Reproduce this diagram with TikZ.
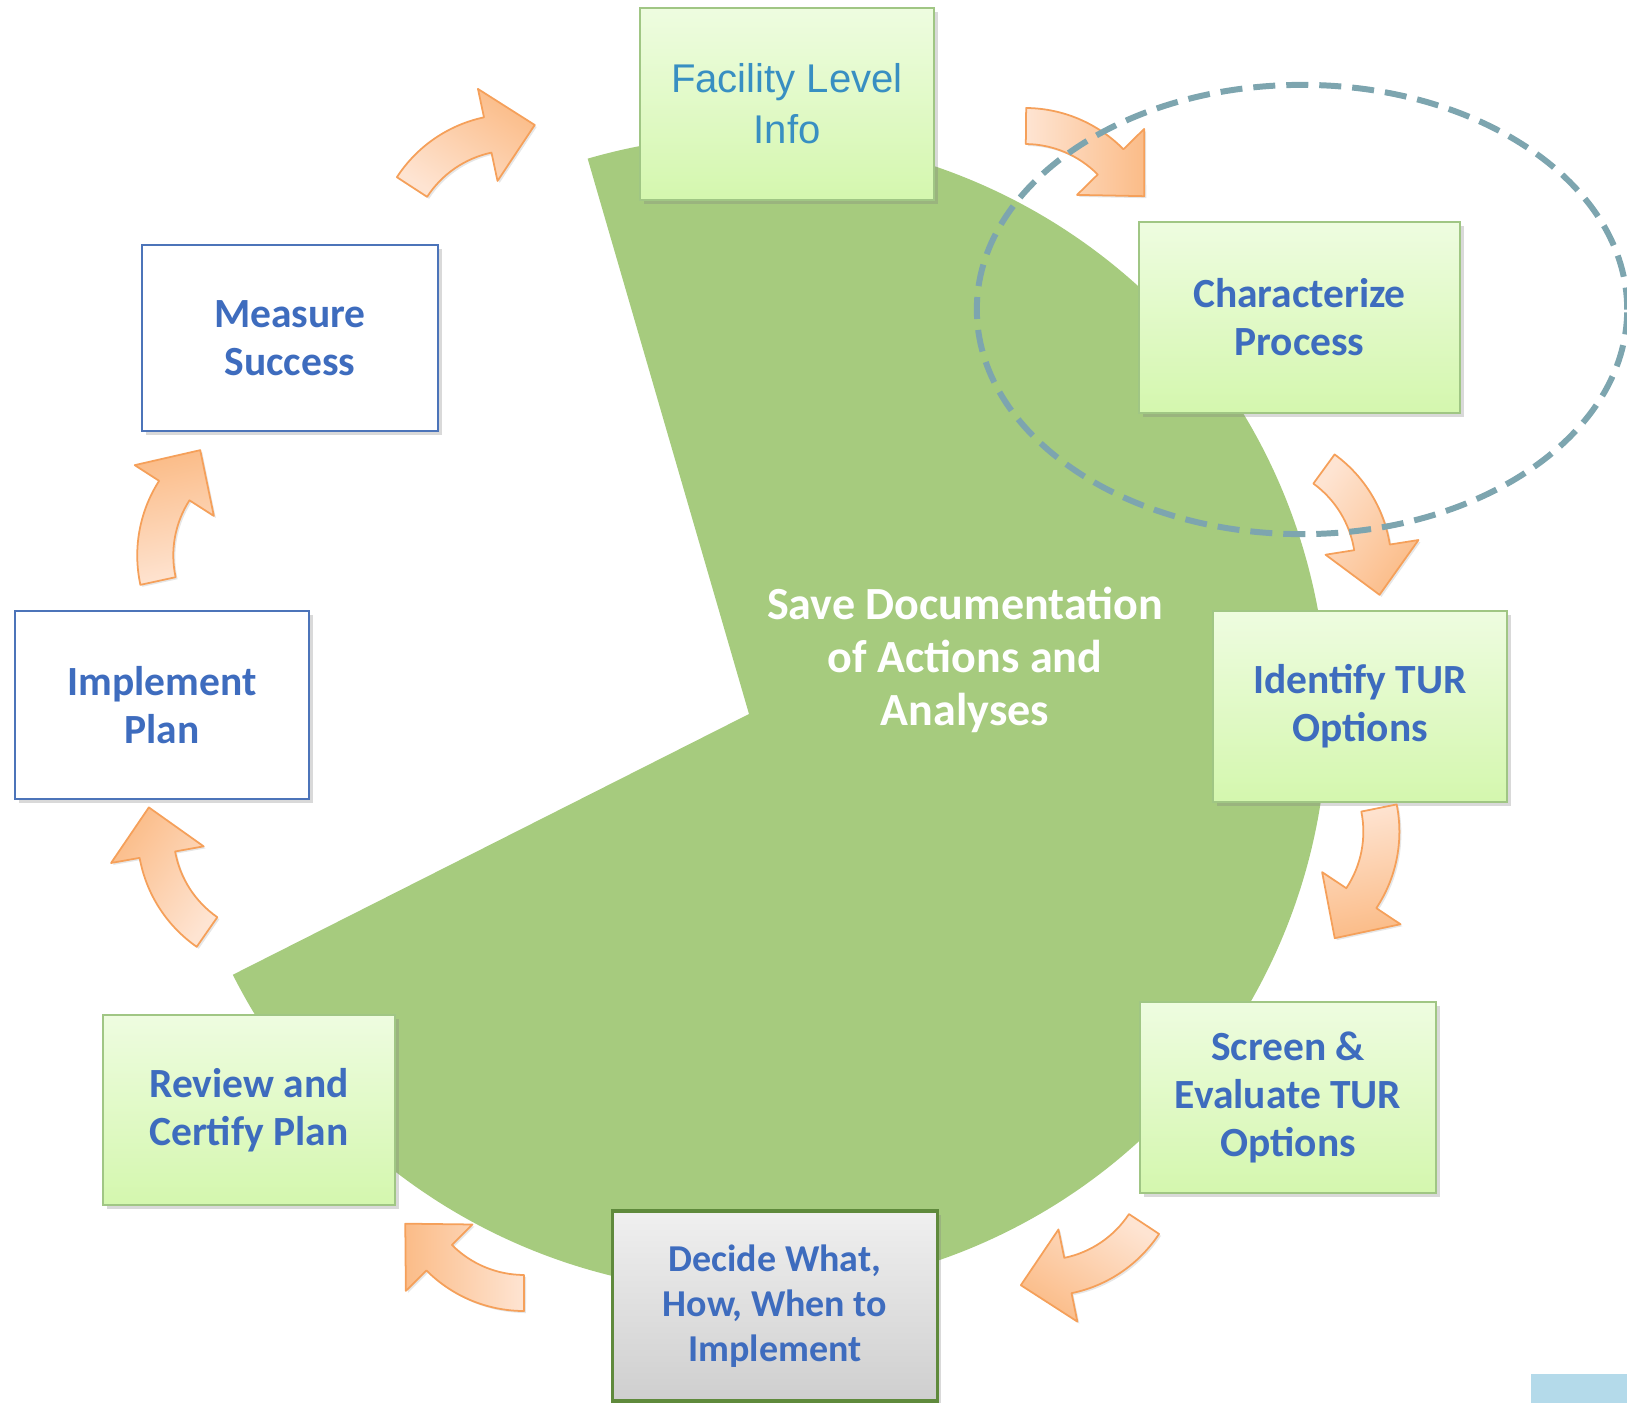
\documentclass[tikz,border=0pt]{standalone}
\usepackage{fontspec}
\setmainfont{Carlito}
\newfontfamily\arialfont{Liberation Sans}
\usetikzlibrary{shadows}

\definecolor{piegreen}{RGB}{166,203,126}
\definecolor{steptop}{RGB}{238,252,224}
\definecolor{stepbottom}{RGB}{212,247,174}
\definecolor{stepedge}{RGB}{160,198,132}
\definecolor{stepblue}{RGB}{62,108,190}
\definecolor{infoblue}{RGB}{56,143,194}
\definecolor{plainedge}{RGB}{76,116,185}
\definecolor{decideedge}{RGB}{95,138,60}
\definecolor{arrowlight}{RGB}{254,228,210}
\definecolor{arrowdark}{RGB}{251,188,136}
\definecolor{arrowedge}{RGB}{245,160,90}
\definecolor{loopdash}{RGB}{125,165,175}
\definecolor{cornerblue}{RGB}{180,218,234}

\tikzset{
	stepbase/.style={minimum width=2.95cm, minimum height=1.9cm, align=center, inner sep=0pt,
		font=\bfseries\fontsize{11.8}{13.6}\selectfont, text=stepblue,
		drop shadow={opacity=0.3, shadow xshift=0.04cm, shadow yshift=-0.04cm}},
	greenstep/.style={stepbase, draw=stepedge, line width=0.6pt, top color=steptop, bottom color=stepbottom},
	whitestep/.style={stepbase, draw=plainedge, line width=0.7pt, fill=white},
	graystep/.style={stepbase, draw=decideedge, line width=0.9pt, top color=gray!12, bottom color=gray!38},
	turnarrow/.style={draw=arrowedge, line width=0.5pt, left color=arrowlight, right color=arrowdark,
		line join=round, drop shadow={opacity=0.2, shadow xshift=0.02cm, shadow yshift=-0.02cm}}
}

\begin{document}
\begin{tikzpicture}[x=0.01cm, y=-0.01cm]
	\useasboundingbox (0,0) rectangle (1627,1403);
	
	% pie with the missing wedge
	\fill[piegreen] (749,714) -- ++(106.2:5.78cm) arc[start angle=106.2, end angle=-153.2, radius=5.78cm] -- cycle;
	
	\node[font=\bfseries\fontsize{13.1}{15.1}\selectfont, text=white, align=center] (savedocs) at (965,660) {Save Documentation\\of Actions and\\Analyses};
	
	% steps
	\node[greenstep, minimum width=2.94cm, minimum height=1.92cm, font=\arialfont\fontsize{11.4}{14.5}\selectfont, text=infoblue] (info) at (787,104) {Facility Level\\Info};
	\node[greenstep, minimum width=3.21cm, minimum height=1.91cm] (charact) at (1299.5,317.5) {Characterize\\Process};
	\node[greenstep, minimum width=2.94cm, minimum height=1.91cm] (identify) at (1360,706.5) {Identify TUR\\Options};
	\node[greenstep, minimum width=2.96cm, minimum height=1.91cm] (screen) at (1288,1097.5) {Screen \&\\Evaluate TUR\\Options};
	\node[graystep, minimum width=3.24cm, minimum height=1.9cm, font=\bfseries\fontsize{10.8}{12.8}\selectfont] (decide) at (775,1306) {Decide What,\\How, When to\\Implement};
	\node[greenstep, minimum width=2.92cm, minimum height=1.9cm] (review) at (249,1110) {Review and\\Certify Plan};
	\node[whitestep, minimum width=2.94cm, minimum height=1.88cm] (implement) at (162,705) {Implement\\Plan};
	\node[whitestep, minimum width=2.96cm, minimum height=1.86cm] (measure) at (290,338) {Measure\\Success};
	
	% curved arrows, tail point and turn
	\foreach \tx/\ty/\rot in {412/187/57, 1026/126/-0.5, 1324/469/-36, 1379/808/-78.6,
		1144/1224/-123.4, 524/1293/-180.1, 207/932/-214.8, 158/581/102.3}{
		\begin{scope}[shift={(\tx,\ty)}, rotate=\rot]
			\path[turnarrow, shading angle=90+\rot] (0cm,0.18cm) arc[start angle=90, end angle=45, radius=1.38cm]
				-- (1.181cm,-0.019cm) -- (1.188cm,-0.691cm) -- (0.516cm,-0.684cm)
				-- (0.721cm,-0.479cm) arc[start angle=45, end angle=90, radius=1.02cm] -- cycle;
		\end{scope}
	}
	
	% dashed loop round the first steps
	\draw[loopdash, line width=1.7pt, dash pattern=on 0.22cm off 0.11cm] (1302,309.5) ellipse [x radius=3.25cm, y radius=2.245cm];
	
	\fill[cornerblue] (1531,1374) rectangle (1627,1403);
\end{tikzpicture}
\end{document}
